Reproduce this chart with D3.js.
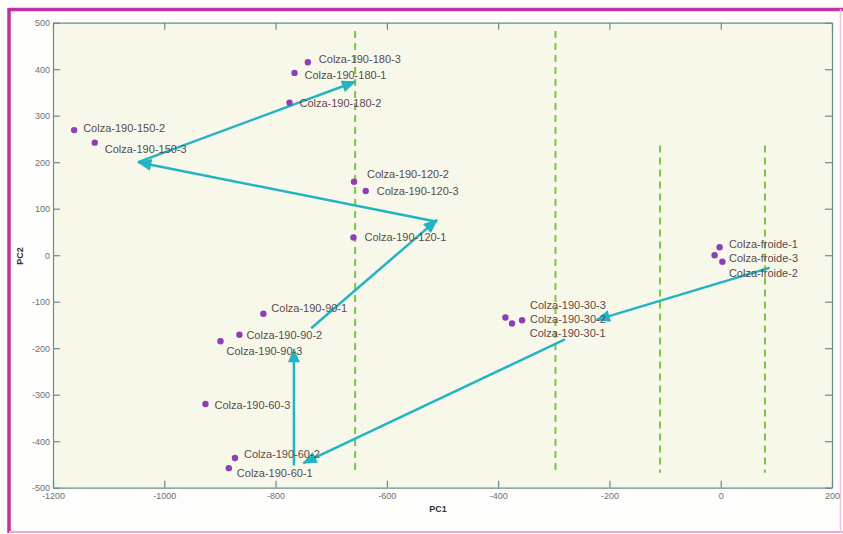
<!DOCTYPE html>
<html>
<head>
<meta charset="utf-8">
<script src="https://cdn.jsdelivr.net/npm/d3@7/dist/d3.min.js"></script>
<style>
  html, body { margin: 0; padding: 0; background: #ffffff; }
  svg { display: block; }
</style>
</head>
<body>
<script>
// ---------- data ----------
const sampleNames = [
  "Colza-190-180-3", "Colza-190-180-1", "Colza-190-180-2",
  "Colza-190-150-2", "Colza-190-150-3",
  "Colza-190-120-2", "Colza-190-120-3", "Colza-190-120-1",
  "Colza-190-90-1", "Colza-190-90-2", "Colza-190-90-3",
  "Colza-190-60-3", "Colza-190-60-2", "Colza-190-60-1",
  "Colza-190-30-3", "Colza-190-30-2", "Colza-190-30-1",
  "Colza-froide-1", "Colza-froide-3", "Colza-froide-2"
];
const pc1 = [-742, -766, -775, -1162, -1125, -659, -638, -660, -822, -865, -899, -926, -873, -884, -387, -357, -375, -2, 3, -11];
const pc2 = [415, 392, 328, 269, 242, 158, 138, 38, -126, -171, -185, -320, -436, -458, -134, -140, -147, 17, -14, 0];

// arrows: from [PC1, PC2] to [PC1, PC2]
const arrowFrom = [[88, -27], [-280, -181], [-767, -452], [-736, -157], [-510, 72], [-1047, 200]];
const arrowTo   = [[-223, -139], [-750, -447], [-767, -202], [-510, 76], [-1047, 200], [-657, 373]];

// vertical dashed separators
const dashX    = [-657, -297, -109, 79.5];
const dashTop  = [482, 482, 236, 236];
const dashBot  = [-468, -468, -468, -468];

const xTicks = [-1200, -1000, -800, -600, -400, -200, 0, 200];
const yTicks = [-500, -400, -300, -200, -100, 0, 100, 200, 300, 400, 500];

// label offsets in px relative to each point [dx, dy]
const labelOffsets = [
  [11, -3.4], [10, 2.3], [10, 0],
  [9, -2], [10, 6],
  [13, -8], [11, 0], [11, 0],
  [8, -6], [7, 0], [6, 10],
  [9, 1], [9, -4], [8, 5],
  [24.7, -12.7], [8, -1], [17.7, 9.6],
  [9.3, -3.3], [6.6, -3.3], [14.3, 17.7]
];

// ---------- layout ----------
const W = 843, H = 534;
const svg = d3.select("body").append("svg").attr("width", W).attr("height", H);

const pL = 53, pR = 832, pT = 22.7, pB = 487.7;
const x = d3.scaleLinear().domain([-1200, 200]).range([pL, pR]);
const y = d3.scaleLinear().domain([-500, 500]).range([pB, pT]);

// outer frame
svg.append("rect").attr("x", 0).attr("y", 0).attr("width", W).attr("height", H).attr("fill", "#fdfefb");
svg.append("line").attr("x1", 9).attr("x2", 843).attr("y1", 9.5).attr("y2", 9.5)
  .attr("stroke", "#c3309f").attr("stroke-width", 3.5);
svg.append("line").attr("x1", 9).attr("x2", 9).attr("y1", 8).attr("y2", 533)
  .attr("stroke", "#c3309f").attr("stroke-width", 3.5);
svg.append("line").attr("x1", 9).attr("x2", 843).attr("y1", 532).attr("y2", 532)
  .attr("stroke", "#eaa8d8").attr("stroke-width", 2);
svg.append("line").attr("x1", 840.5).attr("x2", 840.5).attr("y1", 9).attr("y2", 533)
  .attr("stroke", "#f0bfe2").attr("stroke-width", 1.5);

// plot background
svg.append("rect").attr("x", pL).attr("y", pT).attr("width", pR - pL).attr("height", pB - pT)
  .attr("fill", "#f7f8ea");

// dashed lines
svg.append("g").selectAll("line").data(dashX).join("line")
  .attr("x1", d => x(d)).attr("x2", d => x(d))
  .attr("y1", (d, i) => y(dashTop[i])).attr("y2", (d, i) => y(dashBot[i]))
  .attr("stroke", "#78c840").attr("stroke-width", 2)
  .attr("stroke-dasharray", "7,5");

// axes
const axisColor = "#6a8c8c";
const tickColor = "#707070";
const fmt = d => String(d);
function styleAxis(g) {
  g.select(".domain").attr("stroke", axisColor).attr("stroke-width", 1.2);
  g.selectAll(".tick line").attr("stroke", axisColor).attr("stroke-width", 1.2);
  g.selectAll(".tick text").attr("fill", tickColor)
    .style("font-family", "'Liberation Sans', Arial, sans-serif").style("font-size", "9px");
}
svg.append("g").attr("transform", `translate(0,${pB})`)
  .call(d3.axisBottom(x).tickValues(xTicks).tickFormat(fmt).tickSize(-7).tickPadding(5).tickSizeOuter(0))
  .call(styleAxis);
svg.append("g").attr("transform", `translate(0,${pT})`)
  .call(d3.axisTop(x).tickValues(xTicks).tickSize(-7).tickFormat("").tickSizeOuter(0))
  .call(styleAxis);
svg.append("g").attr("transform", `translate(${pL},0)`)
  .call(d3.axisLeft(y).tickValues(yTicks).tickFormat(fmt).tickSize(-7).tickPadding(3).tickSizeOuter(0))
  .call(styleAxis);
svg.append("g").attr("transform", `translate(${pR},0)`)
  .call(d3.axisRight(y).tickValues(yTicks).tickSize(-7).tickFormat("").tickSizeOuter(0))
  .call(styleAxis);

// axis titles
svg.append("text").attr("x", 438).attr("y", 512).attr("text-anchor", "middle")
  .style("font-family", "'Liberation Sans', Arial, sans-serif").style("font-size", "9px")
  .style("font-weight", "bold").attr("fill", "#333").text("PC1");
svg.append("text").attr("transform", "translate(23,256) rotate(-90)").attr("text-anchor", "middle")
  .style("font-family", "'Liberation Sans', Arial, sans-serif").style("font-size", "9px")
  .style("font-weight", "bold").attr("fill", "#333").text("PC2");

// arrows
const arrowColor = "#22b4c2";
svg.append("defs").append("marker")
  .attr("id", "ah").attr("viewBox", "0 0 12 10").attr("refX", 11).attr("refY", 5)
  .attr("markerWidth", 15).attr("markerHeight", 12).attr("markerUnits", "userSpaceOnUse")
  .attr("orient", "auto")
  .append("path").attr("d", "M0,0 L12,5 L0,10 Z").attr("fill", arrowColor);

svg.append("g").selectAll("line").data(arrowFrom).join("line")
  .attr("x1", d => x(d[0])).attr("y1", d => y(d[1]))
  .attr("x2", (d, i) => x(arrowTo[i][0])).attr("y2", (d, i) => y(arrowTo[i][1]))
  .attr("stroke", arrowColor).attr("stroke-width", 2.5)
  .attr("marker-end", "url(#ah)");

// points
const idx = d3.range(sampleNames.length);
svg.append("g").selectAll("circle").data(idx).join("circle")
  .attr("cx", i => x(pc1[i])).attr("cy", i => y(pc2[i])).attr("r", 3.2)
  .attr("fill", "#8d3fb3");

// labels
svg.append("g").selectAll("text").data(idx).join("text")
  .attr("x", i => x(pc1[i]) + labelOffsets[i][0])
  .attr("y", i => y(pc2[i]) + labelOffsets[i][1])
  .attr("dy", "0.35em")
  .style("font-family", "'Liberation Sans', Arial, sans-serif").style("font-size", "11px")
  .attr("fill", "#5a4a4c")
  .text(i => sampleNames[i]);
</script>
</body>
</html>
